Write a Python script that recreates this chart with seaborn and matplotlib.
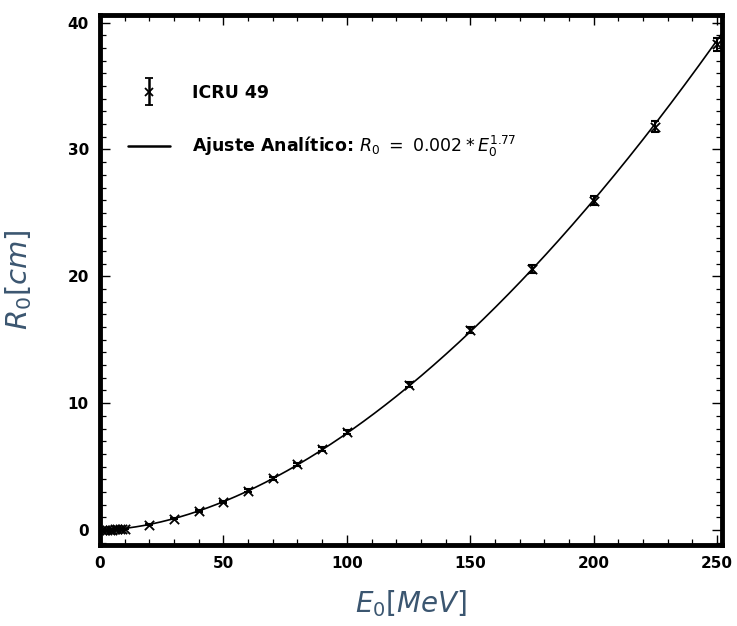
import numpy as np
import pandas as pd
import matplotlib
matplotlib.use("Agg")
import matplotlib.pyplot as plt
import seaborn as sns
from matplotlib.ticker import MultipleLocator
from matplotlib.lines import Line2D
from matplotlib.legend_handler import HandlerErrorbar

# ICRU 49 data (energy in MeV, CSDA range in cm)
energy = [1, 2, 3, 4, 5, 6, 7, 8, 9, 10, 20, 30, 40, 50, 60, 70, 80, 90, 100,
          125, 150, 175, 200, 225, 250]
r0 = [0.0025, 0.0075, 0.015, 0.025, 0.036, 0.049, 0.064, 0.080, 0.098, 0.12,
      0.43, 0.89, 1.49, 2.22, 3.10, 4.08, 5.18, 6.40, 7.72,
      11.46, 15.77, 20.56, 25.96, 31.80, 38.30]
r0_err = [0, 0, 0, 0, 0, 0, 0, 0, 0, 0,
          0.05, 0.05, 0.08, 0.1, 0.1, 0.12, 0.12, 0.15, 0.15,
          0.2, 0.25, 0.3, 0.35, 0.45, 0.5]

# analytic fit parameters
fit_a = 0.0022
fit_b = 1.77
fit_e = np.linspace(0, 252, 400)

sns.set_theme(style="white")
plt.rcParams['font.family'] = ['DejaVu Sans']
plt.rcParams['mathtext.fontset'] = 'dejavusans'

fig = plt.figure(figsize=(7.37, 6.26), dpi=100)
ax = fig.add_axes([0.1357, 0.129, 0.844, 0.847])

df_fit = pd.DataFrame({"E": fit_e, "R": fit_a * fit_e ** fit_b})
df_pts = pd.DataFrame({"E": energy, "R": r0})

sns.lineplot(data=df_fit, x="E", y="R", ax=ax, color="black", lw=1.2)
ax.errorbar(energy, r0, yerr=r0_err, fmt="none", ecolor="black",
            elinewidth=1.5, capsize=3, capthick=1.5)
sns.scatterplot(data=df_pts, x="E", y="R", ax=ax, marker="x", color="black",
                s=45, linewidth=1.3)

ax.set_xlim(0, 252)
ax.set_ylim(-1.2, 40.6)
ax.xaxis.set_major_locator(MultipleLocator(50))
ax.xaxis.set_minor_locator(MultipleLocator(10))
ax.yaxis.set_major_locator(MultipleLocator(10))
ax.yaxis.set_minor_locator(MultipleLocator(1))
ax.tick_params(which="both", direction="in", top=True, right=True,
               bottom=True, left=True, color="black")
ax.tick_params(which="major", length=7, width=1.0, labelsize=11, pad=8,
               labelcolor="black")
ax.tick_params(which="minor", length=4, width=0.9)
for lab in ax.get_xticklabels() + ax.get_yticklabels():
    lab.set_fontweight("bold")
for sp in ax.spines.values():
    sp.set_linewidth(3.5)
    sp.set_color("black")

label_color = "#3b5670"
ax.set_xlabel(r"$E_0[MeV]$", fontsize=20, color=label_color, labelpad=12)
ax.set_ylabel(r"$R_0[cm]$", fontsize=21, color=label_color, labelpad=24)

dummy = ax.errorbar([np.nan], [np.nan], yerr=[1], fmt="x", color="black",
                    markersize=6, mew=1.3, elinewidth=1.8, capsize=3, capthick=1.5)
h_line = Line2D([], [], color="black", lw=1.8)
leg = ax.legend([dummy, h_line],
                ["ICRU 49", r"Ajuste Analítico: $R_0\ =\ 0.002 * E_0^{1.77}$"],
                loc="upper left", bbox_to_anchor=(0.02, 0.90), frameon=False,
                prop={"weight": "bold", "size": 12.5}, handlelength=2.4,
                labelspacing=1.85, handletextpad=1.3,
                handler_map={type(dummy): HandlerErrorbar(yerr_size=0.8)})
for t in leg.get_texts():
    t.set_color("black")

fig.savefig("out.png", dpi=100)
